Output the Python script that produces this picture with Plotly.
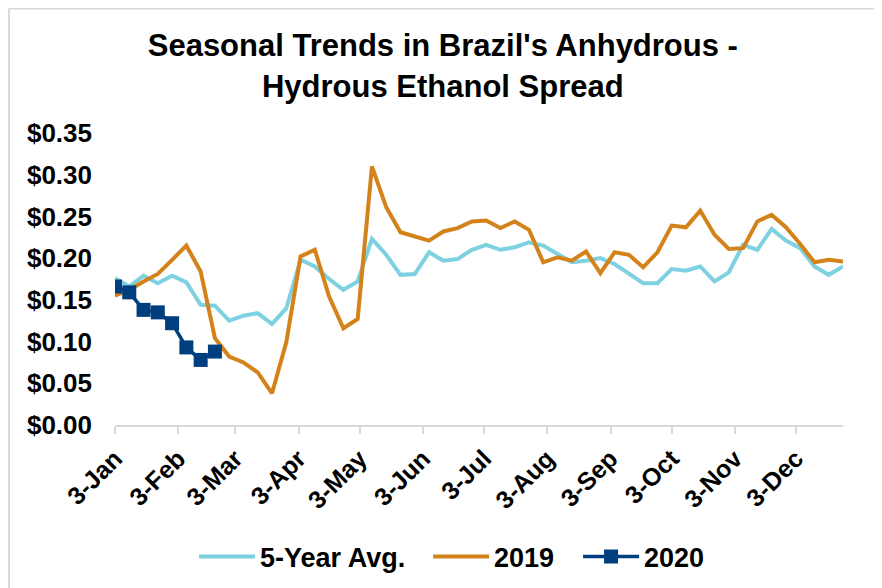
import plotly.graph_objects as go
import pandas as pd

# Weekly dates (starting 3-Jan)
weeks = pd.date_range("2019-01-03", periods=52, freq="7D")

avg5 = [0.176, 0.166, 0.179, 0.170, 0.179, 0.171, 0.144, 0.143, 0.125, 0.131,
        0.134, 0.121, 0.140, 0.198, 0.190, 0.175, 0.162, 0.172, 0.223, 0.204,
        0.180, 0.181, 0.207, 0.197, 0.199, 0.210, 0.216, 0.210, 0.213, 0.219,
        0.215, 0.205, 0.195, 0.197, 0.200, 0.193, 0.182, 0.170, 0.170, 0.187,
        0.185, 0.190, 0.172, 0.183, 0.216, 0.210, 0.235, 0.221, 0.212, 0.190,
        0.180, 0.190]

y2019 = [0.155, 0.162, 0.172, 0.181, 0.198, 0.215, 0.184, 0.104, 0.082, 0.075,
         0.063, 0.038, 0.099, 0.202, 0.210, 0.154, 0.116, 0.127, 0.310, 0.261,
         0.231, 0.226, 0.221, 0.232, 0.236, 0.244, 0.245, 0.236, 0.244, 0.234,
         0.195, 0.201, 0.197, 0.208, 0.182, 0.207, 0.204, 0.189, 0.207, 0.239,
         0.237, 0.257, 0.228, 0.211, 0.212, 0.244, 0.252, 0.237, 0.217, 0.195,
         0.198, 0.196]

y2020 = [0.166, 0.159, 0.138, 0.135, 0.122, 0.093, 0.078, 0.088]

tick_dates = [pd.Timestamp(2019, m, 3) for m in range(1, 13)]
tick_labels = ["3-Jan", "3-Feb", "3-Mar", "3-Apr", "3-May", "3-Jun",
               "3-Jul", "3-Aug", "3-Sep", "3-Oct", "3-Nov", "3-Dec"]
y_ticks = [0.00, 0.05, 0.10, 0.15, 0.20, 0.25, 0.30, 0.35]

FONT = "Liberation Sans, Arial, sans-serif"

fig = go.Figure()
fig.add_trace(go.Scatter(x=weeks, y=avg5, name="5-Year Avg.", mode="lines",
                         line=dict(color="#7ED1E1", width=4), legendwidth=163))
fig.add_trace(go.Scatter(x=weeks, y=y2019, name="2019", mode="lines",
                         line=dict(color="#D4831A", width=4), legendwidth=79))
fig.add_trace(go.Scatter(x=weeks[:len(y2020)], y=y2020, name="2020", mode="lines+markers",
                         line=dict(color="#003F7F", width=3.5),
                         marker=dict(symbol="square", size=14, color="#003F7F")))

fig.update_layout(
    width=882, height=588,
    paper_bgcolor="white", plot_bgcolor="white",
    margin=dict(l=107, r=47, t=125, b=171, autoexpand=False),
    font=dict(family=FONT, size=26, color="black", weight="bold"),
    title=dict(text="Seasonal Trends in Brazil's Anhydrous -<br>Hydrous Ethanol Spread",
               x=0.493, xanchor="center", yref="container", y=0.918, yanchor="top",
               font=dict(family=FONT, size=31, color="black", weight="bold")),
    showlegend=True,
    legend=dict(orientation="h", x=0.463, xanchor="center", y=-0.452, yanchor="middle",
                font=dict(family=FONT, size=27, color="black", weight="bold"),
                bgcolor="rgba(0,0,0,0)", itemwidth=56, tracegroupgap=0),
    xaxis=dict(type="date", range=["2019-01-03", "2019-12-26"], automargin=False,
               tickvals=tick_dates, ticktext=tick_labels, tickangle=-45,
               showgrid=False, zeroline=False,
               showline=True, linecolor="#D9D9D9", linewidth=2,
               ticks="outside", ticklen=7, tickwidth=2, tickcolor="#D9D9D9",
               tickfont=dict(family=FONT, size=25, color="black", weight="bold")),
    yaxis=dict(range=[0, 0.35], tickvals=y_ticks, automargin=False,
               ticktext=["$%.2f" % v for v in y_ticks],
               showgrid=False, zeroline=False, showline=False,
               ticklabelstandoff=22,
               tickfont=dict(family=FONT, size=26, color="black", weight="bold")),
    shapes=[dict(type="line", xref="paper", yref="paper",
                 x0=-0.1456, x1=-0.1456, y0=-2, y1=1.4264,
                 line=dict(color="#D9D9D9", width=2)),
            dict(type="line", xref="paper", yref="paper",
                 x0=-0.1456, x1=2, y0=1.4264, y1=1.4264,
                 line=dict(color="#D9D9D9", width=2))],
)

fig.write_html("out.html")
